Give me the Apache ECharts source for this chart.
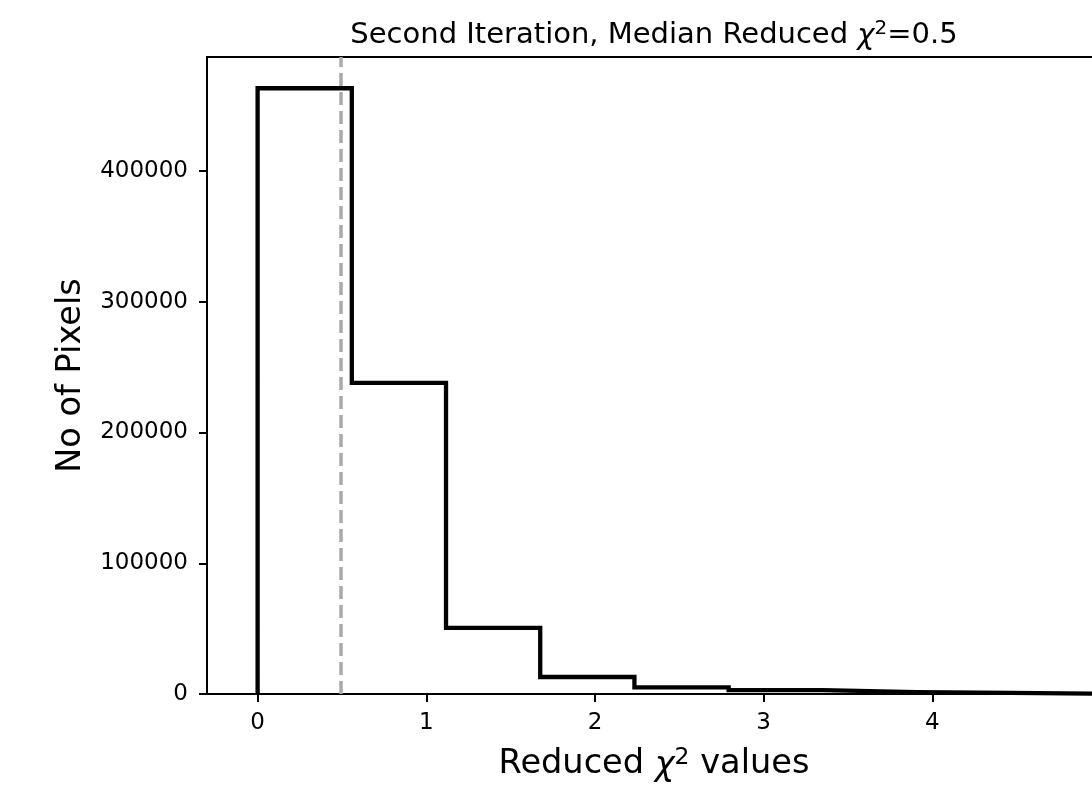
<!DOCTYPE html>
<html>
<head>
<meta charset="utf-8">
<script src="https://cdn.jsdelivr.net/npm/echarts@6/dist/echarts.min.js"></script>
<style>html,body{margin:0;padding:0;background:#fff}#chart{width:1092px;height:787px}</style>
</head>
<body>
<div id="chart"></div>
<script>
// Histogram bin edges (reduced chi^2) and pixel counts per bin
const binEdges = [0, 0.5585, 1.117, 1.6755, 2.234, 2.7925, 3.351, 3.9095, 4.468, 5.0265, 5.585];
const counts = [463300, 238000, 50500, 13000, 5000, 2900, 1400, 900, 250, 100];
const medianValue = 0.486;
const xTickValues = [0, 1, 2, 3, 4, 5];
const yTickValues = [0, 100000, 200000, 300000, 400000];

// Build step outline (histtype='step') from the arrays
const stepPts = [[binEdges[0], 0]];
for (let i = 0; i < counts.length; i++) {
  stepPts.push([binEdges[i], counts[i]]);
  stepPts.push([binEdges[i + 1], counts[i]]);
}
stepPts.push([binEdges[binEdges.length - 1], 0]);

const FONT = 'DejaVu Sans';
const chart = echarts.init(document.getElementById('chart'), null, {renderer: 'canvas'});
chart.setOption({
  animation: false,
  backgroundColor: '#ffffff',
  title: {
    text: 'Second Iteration, Median Reduced {i|χ}{sup|2}=0.5',
    left: 649, top: 14, textAlign: 'center',
    textStyle: {
      fontFamily: FONT, fontSize: 29, fontWeight: 'normal', color: '#000',
      rich: {
        i: {fontFamily: FONT, fontSize: 29, fontStyle: 'italic', color: '#000', verticalAlign: 'bottom'},
        sup: {fontFamily: FONT, fontSize: 20, color: '#000', padding: [0, 0, 12, 0], verticalAlign: 'bottom'}
      }
    }
  },
  grid: {left: 207, top: 57, right: -9, bottom: 93, outerBoundsMode: 'none', containLabel: false,
         show: true, borderColor: '#000', borderWidth: 2, backgroundColor: 'transparent'},
  xAxis: {
    type: 'value', min: -0.3, max: 5,
    name: 'Reduced {i|χ}{sup|2} values', nameLocation: 'middle', nameGap: 52,
    nameTextStyle: {
      fontFamily: FONT, fontSize: 33.6, color: '#000',
      rich: {
        i: {fontFamily: FONT, fontSize: 33.6, fontStyle: 'italic', color: '#000', verticalAlign: 'bottom'},
        sup: {fontFamily: FONT, fontSize: 23.5, color: '#000', padding: [0, 0, 13, 0], verticalAlign: 'bottom'}
      }
    },
    axisLine: {show: true, onZero: false, lineStyle: {color: '#000', width: 2}},
    axisTick: {show: true, length: 8, lineStyle: {color: '#000', width: 2}, customValues: xTickValues},
    axisLabel: {fontFamily: FONT, fontSize: 23, color: '#000', margin: 18, customValues: xTickValues, formatter: v => String(v)},
    splitLine: {show: false}
  },
  yAxis: {
    type: 'value', min: 0, max: 487200,
    name: 'No of Pixels', nameLocation: 'middle', nameGap: 119, nameRotate: 90,
    nameTextStyle: {fontFamily: FONT, fontSize: 33.6, color: '#000'},
    axisLine: {show: true, onZero: false, lineStyle: {color: '#000', width: 2}},
    axisTick: {show: true, length: 8, lineStyle: {color: '#000', width: 2}, customValues: yTickValues},
    axisLabel: {fontFamily: FONT, fontSize: 23, color: '#000', margin: 19, padding: [5, 0, 0, 0], customValues: yTickValues, formatter: v => String(v)},
    splitLine: {show: false}
  },
  series: [{
    type: 'line',
    data: stepPts,
    symbol: 'none',
    lineStyle: {color: '#000', width: 4.3, join: 'miter', cap: 'butt'},
    clip: true,
    markLine: {
      silent: true, symbol: ['none', 'none'],
      label: {show: false},
      lineStyle: {color: '#aaaaaa', width: 3.5, type: [13, 6]},
      data: [{xAxis: medianValue}]
    }
  }]
});
</script>
</body>
</html>
